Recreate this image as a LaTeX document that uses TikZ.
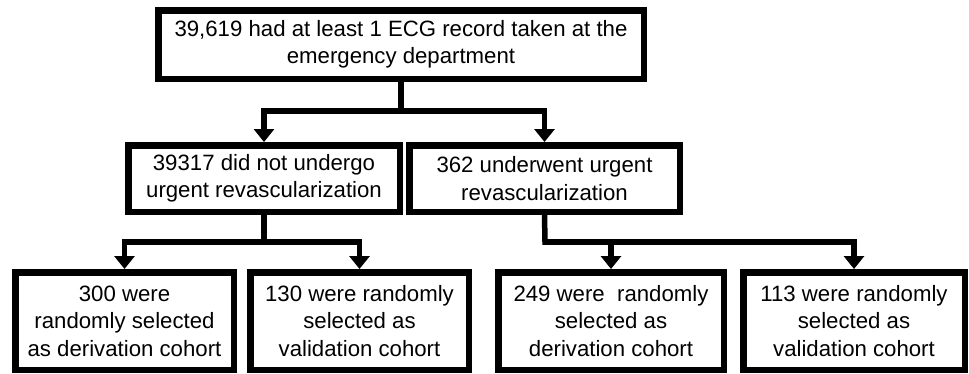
\documentclass[tikz,border=0pt]{standalone}
\usepackage{fontspec}
\setmainfont{Liberation Sans}
\usetikzlibrary{arrows.meta}
\begin{document}
\begin{tikzpicture}[x=1pt,y=-1pt,
  box/.style={draw=black,line width=6.5pt,fill=white,inner sep=0pt,align=center,
    font=\fontsize{22.2}{27.5}\selectfont},
  conn/.style={draw=black,line width=5.5pt,line join=miter},
  tip/.style={conn,{Triangle[width=20pt,length=13pt]}-{Triangle[width=20pt,length=13pt]}}]
\useasboundingbox (0,0) rectangle (969,373);
\node[box,minimum width=485.5pt,minimum height=68.5pt] (top) at (401,44.5)
  {39,619 had at least 1 ECG record taken at the\\emergency department};
\node[box,minimum width=271.5pt,minimum height=66.5pt] (ml) at (264,178.5)
  {39317 did not undergo\\urgent revascularization};
\node[box,minimum width=270.5pt,minimum height=66.5pt] (mr) at (544.5,178.5)
  {362 underwent urgent\\revascularization};
\node[box,minimum width=218.5pt,minimum height=97.5pt] (b1) at (124.5,321)
  {300 were\\randomly selected\\as derivation cohort};
\node[box,minimum width=218.5pt,minimum height=97.5pt] (b2) at (359.5,321)
  {130 were randomly\\selected as\\validation cohort};
\node[box,minimum width=225.5pt,minimum height=97.5pt] (b3) at (611,321)
  {249 were\ \ randomly\\selected as\\derivation cohort};
\node[box,minimum width=221.5pt,minimum height=97.5pt] (b4) at (854,321)
  {113 were randomly\\selected as\\validation cohort};
\coordinate (j1) at (401,111);
\coordinate (j2) at (264,242);
\coordinate (j3) at (545,242);
\draw[conn,line cap=rect] (top.south) -- (j1);
\draw[tip] (ml.north) |- (j1) -| (mr.north);
\draw[conn,line cap=rect] (ml.south) -- (j2);
\draw[tip] (b1.north) |- (j2) -| (b2.north);
\draw[conn,line cap=rect] (mr.south) -- (j3);
\draw[tip] (b3.north) |- (j3) -| (b4.north);
\end{tikzpicture}
\end{document}
